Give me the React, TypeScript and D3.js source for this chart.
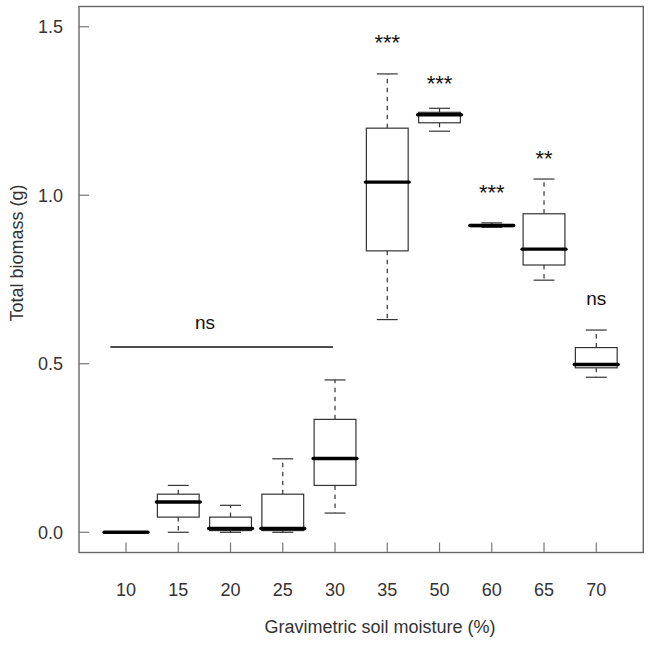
import React from "react";
import * as d3 from "d3";

const categories = ["10", "15", "20", "25", "30", "35", "50", "60", "65", "70"];
const lowerWhisker = [0, 0, 0, 0, 0.057, 0.631, 1.19, 0.905, 0.748, 0.46];
const q1 = [0, 0.045, 0.005, 0.005, 0.139, 0.835, 1.215, 0.907, 0.793, 0.488];
const medians = [0, 0.09, 0.011, 0.011, 0.219, 1.039, 1.239, 0.91, 0.84, 0.498];
const q3 = [0, 0.113, 0.045, 0.113, 0.335, 1.199, 1.246, 0.913, 0.945, 0.548];
const upperWhisker = [0, 0.139, 0.08, 0.218, 0.452, 1.36, 1.258, 0.918, 1.048, 0.6];

const yTicks = [0, 0.5, 1.0, 1.5];

// significance labels: category index (1-based), y value of label centre, text
const sigIndex = [6, 7, 8, 9, 10];
const sigY = [1.47, 1.347, 1.025, 1.126, 0.69];
const sigText = ["***", "***", "***", "**", "ns"];

// group "ns" bracket
const groupLineX = [0.7, 4.96];
const groupLineY = 0.55;
const groupLabelX = 2.51;
const groupLabelY = 0.62;

const W = 652;
const H = 645;

export default function App() {
  const x = d3.scaleLinear().domain([0.1, 10.9]).range([79, 643.3]);
  const y = d3.scaleLinear().domain([-0.06, 1.56]).range([552.5, 6.5]);
  const unit = x(1) - x(0);
  const boxHalf = 0.4 * unit;
  const stapleHalf = 0.2 * unit;
  const boxStroke = "#333";
  const textColor = "#333";
  const font = "Liberation Sans, Arial, sans-serif";
  const fs = 18;
  const annFs = 19;
  const starFs = 22;

  return (
    <svg
      width={W}
      height={H}
      style={{ position: "absolute", left: 0, top: 0, background: "#fff" }}
      fontFamily={font}
    >
      <rect x={0} y={0} width={W} height={H} fill="#fff" />
      {categories.map((c, i) => {
        const cx = x(i + 1);
        return (
          <g key={c}>
            <line
              x1={cx}
              x2={cx}
              y1={y(q3[i])}
              y2={y(upperWhisker[i])}
              stroke={boxStroke}
              strokeWidth={1.2}
              strokeDasharray="4.5,4.5"
            />
            <line
              x1={cx}
              x2={cx}
              y1={y(q1[i])}
              y2={y(lowerWhisker[i])}
              stroke={boxStroke}
              strokeWidth={1.2}
              strokeDasharray="4.5,4.5"
            />
            <line
              x1={cx - stapleHalf}
              x2={cx + stapleHalf}
              y1={y(upperWhisker[i])}
              y2={y(upperWhisker[i])}
              stroke={boxStroke}
              strokeWidth={1.2}
            />
            <line
              x1={cx - stapleHalf}
              x2={cx + stapleHalf}
              y1={y(lowerWhisker[i])}
              y2={y(lowerWhisker[i])}
              stroke={boxStroke}
              strokeWidth={1.2}
            />
            <rect
              x={cx - boxHalf}
              y={y(q3[i])}
              width={2 * boxHalf}
              height={Math.max(0, y(q1[i]) - y(q3[i]))}
              fill="#fff"
              stroke={boxStroke}
              strokeWidth={1.2}
            />
            <line
              x1={cx - boxHalf - 1}
              x2={cx + boxHalf + 1}
              y1={y(medians[i])}
              y2={y(medians[i])}
              stroke="#000"
              strokeWidth={3.4}
              strokeLinecap="round"
            />
          </g>
        );
      })}

      <line
        x1={x(groupLineX[0])}
        x2={x(groupLineX[1])}
        y1={y(groupLineY)}
        y2={y(groupLineY)}
        stroke="#111"
        strokeWidth={1.5}
      />
      <text
        x={x(groupLabelX)}
        y={y(groupLabelY)}
        dy="0.28em"
        textAnchor="middle"
        fontSize={annFs}
        fill="#111"
      >
        ns
      </text>

      {sigIndex.map((k, j) => {
        const isStar = sigText[j].includes("*");
        return (
          <text
            key={j}
            x={x(k)}
            y={y(sigY[j])}
            dy={isStar ? "0.6em" : "0.28em"}
            textAnchor="middle"
            fontSize={isStar ? starFs : annFs}
            fill="#111"
          >
            {sigText[j]}
          </text>
        );
      })}

      <rect
        x={x(0.1)}
        y={y(1.56)}
        width={x(10.9) - x(0.1)}
        height={y(-0.06) - y(1.56)}
        fill="none"
        stroke="#666"
        strokeWidth={1.4}
      />

      {yTicks.map((t) => (
        <g key={t}>
          <line
            x1={x(0.1)}
            x2={x(0.1) + 10}
            y1={y(t)}
            y2={y(t)}
            stroke="#777"
            strokeWidth={1.2}
          />
          <text
            x={63}
            y={y(t)}
            dy="0.36em"
            textAnchor="end"
            fontSize={fs}
            fill={textColor}
          >
            {d3.format(".1f")(t)}
          </text>
        </g>
      ))}

      {categories.map((c, i) => (
        <g key={"xt" + c}>
          <line
            x1={x(i + 1)}
            x2={x(i + 1)}
            y1={y(-0.06)}
            y2={y(-0.06) - 10}
            stroke="#777"
            strokeWidth={1.2}
          />
          <text
            x={x(i + 1)}
            y={596}
            textAnchor="middle"
            fontSize={fs}
            fill={textColor}
          >
            {c}
          </text>
        </g>
      ))}

      <text x={380} y={633} textAnchor="middle" fontSize={fs} fill={textColor}>
        Gravimetric soil moisture (%)
      </text>
      <text
        transform={`translate(23, ${253}) rotate(-90)`}
        textAnchor="middle"
        fontSize={fs}
        fill={textColor}
      >
        Total biomass (g)
      </text>
    </svg>
  );
}
